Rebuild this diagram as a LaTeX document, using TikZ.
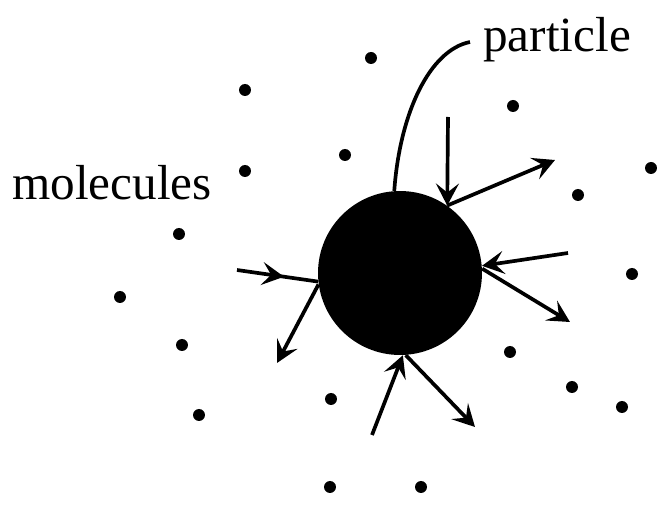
\documentclass[tikz,border=0pt]{standalone}
\usepackage{fontspec}
\setmainfont{Liberation Serif}
\usetikzlibrary{arrows.meta,decorations.markings}

\begin{document}
\begin{tikzpicture}[x=0.02cm,y=-0.02cm,
  mol/.style={circle,fill=black,inner sep=0pt,minimum size=0.24cm},
  label/.style={font=\fontsize{28}{30}\selectfont,inner sep=0pt,anchor=base west},
  arr/.style={line width=2.1pt,-{Stealth[length=4.4mm,width=4.6mm,inset=1.8mm]}},
  midarr/.style={line width=2.1pt,decoration={markings,mark=at position 0.58 with {\arrow{Stealth[length=4.4mm,width=4.6mm,inset=1.8mm]}}},postaction={decorate}}]
 \useasboundingbox (0,0) rectangle (657,520);
 \node[circle,fill=black,inner sep=0pt,minimum size=3.28cm] (particle) at (400,273) {};
 \foreach \px/\py [count=\i] in {371/58,245/90,513/106,345/155,245/171,651/168,578/195,179/234,632/274,120/297,182/345,510/352,572/387,331/399,622/407,199/415,330/487,421/487}
  \node[mol] (m\i) at (\px,\py) {};
 \node[label] (plabel) at (483,52) {particle};
 \node[label] (mlabel) at (12,200) {molecules};
 \coordinate (ptip) at (470,42);
 \draw[line width=2.1pt] (particle.94) .. controls (400,112) and (430,50) .. (ptip);
 \coordinate (d1) at (448,117);
 \coordinate (d2) at (568,253);
 \coordinate (d3) at (237,270);
 \coordinate (d4) at (372,435);
 \coordinate (o1) at (555,160);
 \coordinate (o2) at (570,322);
 \coordinate (o3) at (277,363);
 \coordinate (o4) at (475,427);
 \draw[arr] (d1) -- (particle.55);
 \draw[arr] (particle.55) -- (o1);
 \draw[arr] (d2) -- (particle.5);
 \draw[arr] (particle.3) -- (o2);
 \draw[midarr] (d3) -- (particle.186);
 \draw[arr] (particle.188) -- (o3);
 \draw[arr] (d4) -- (particle.272);
 \draw[arr] (particle.274) -- (o4);
\end{tikzpicture}
\end{document}
